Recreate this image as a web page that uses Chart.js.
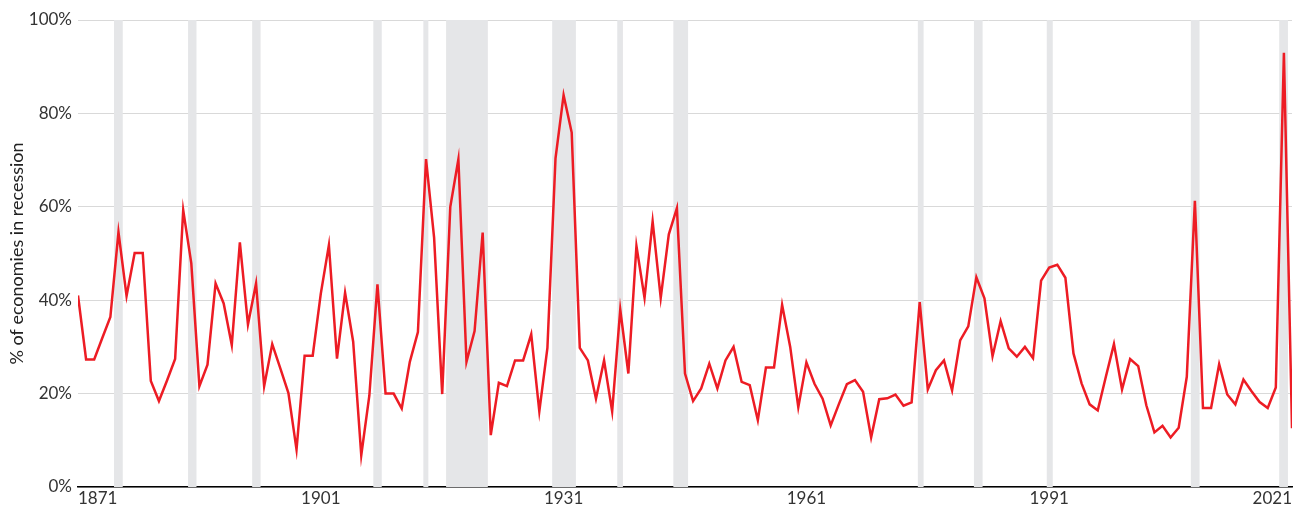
<!DOCTYPE html>
<html>
<head>
<meta charset="utf-8">
<script src="https://cdn.jsdelivr.net/npm/chart.js@4/dist/chart.umd.min.js"></script>
<style>
  html, body { margin: 0; padding: 0; background: #fff; }
</style>
</head>
<body>
<canvas id="chart" width="1298" height="513"></canvas>
<script>
// share of economies in recession, one value per year 1871-2021
const firstYear = 1871;
const recessionShare = [
  41.0, 27.3, 27.3, 31.9, 36.4, 54.6, 40.9, 50.1, 50.1, 22.7, // 1871-1880
  18.4, 22.8, 27.4, 59.3, 47.9, 21.6, 26.2, 43.6, 39.3, 30.4, // 1881-1890
  52.4, 34.8, 43.6, 21.6, 30.6, 25.4, 20.1, 8.0, 28.1, 28.1,  // 1891-1900
  41.4, 51.8, 27.5, 41.6, 31.1, 6.8, 19.6, 43.4, 20.0, 20.0,  // 1901-1910
  16.8, 26.8, 33.2, 70.2, 53.4, 19.9, 60.0, 70.2, 26.8, 33.4, // 1911-1920
  54.5, 11.1, 22.3, 21.6, 27.1, 27.1, 32.7, 16.2, 29.8, 70.4, // 1921-1930
  83.9, 75.9, 29.8, 27.1, 18.9, 27.1, 16.2, 38.0, 24.3, 51.6, // 1931-1940
  40.5, 56.9, 40.5, 54.1, 59.7, 24.3, 18.4, 21.1, 26.4, 21.1, // 1941-1950
  27.1, 30.0, 22.5, 21.8, 14.3, 25.6, 25.6, 39.0, 30.0, 17.1, // 1951-1960
  26.7, 22.1, 18.9, 13.2, 17.7, 22.0, 22.9, 20.4, 10.6, 18.8, // 1961-1970
  19.0, 19.8, 17.4, 18.1, 39.6, 20.9, 25.0, 27.1, 20.7, 31.4, // 1971-1980
  34.4, 44.9, 40.4, 28.0, 35.5, 29.7, 27.9, 30.0, 27.6, 44.2, // 1981-1990
  47.0, 47.6, 44.8, 28.6, 22.2, 17.7, 16.4, 23.6, 30.6, 20.9, // 1991-2000
  27.4, 25.9, 17.5, 11.7, 13.1, 10.6, 12.7, 23.6, 61.3, 16.9, // 2001-2010
  16.9, 26.3, 19.8, 17.7, 23.0, 20.5, 18.2, 16.9, 21.3, 93.0, // 2011-2020
  12.6                                                        // 2021
];
const years = recessionShare.map((_, i) => firstYear + i);

// global recession periods (shaded), in fractional years
const recessionStart = [1875.45, 1884.6, 1892.52, 1907.49, 1913.67, 1916.48, 1929.59, 1937.63, 1944.56, 1974.77, 1981.7, 1990.7, 2008.5, 2019.42];
const recessionEnd   = [1876.53, 1885.64, 1893.56, 1908.53, 1914.29, 1921.64, 1932.52, 1938.33, 1946.38, 1975.48, 1982.77, 1991.44, 2009.58, 2020.5];

const xTicks = [1871, 1901, 1931, 1961, 1991, 2021];
const yTicks = [0, 20, 40, 60, 80, 100];

const linePoints = years.map((yr, i) => ({ x: yr, y: recessionShare[i] }));

// stepped outline: 0 outside a recession, 100 inside
const bandPoints = [{ x: years[0], y: 0 }];
recessionStart.forEach((s, i) => {
  bandPoints.push({ x: s, y: 100 });
  bandPoints.push({ x: recessionEnd[i], y: 0 });
});
bandPoints.push({ x: years[years.length - 1], y: 0 });

const tickFont = { family: 'Lato', size: 17 };
const titleFont = { family: 'Lato', size: 18 };

new Chart(document.getElementById('chart'), {
  type: 'line',
  data: {
    datasets: [
      {
        data: linePoints,
        borderColor: '#ed1c24',
        borderWidth: 2.5,
        pointRadius: 0,
        tension: 0,
        fill: false,
        order: 0
      },
      {
        data: bandPoints,
        stepped: true,
        borderColor: 'rgba(0,0,0,0)',
        borderWidth: 0,
        backgroundColor: '#e5e6e8',
        pointRadius: 0,
        fill: 'origin',
        order: 1
      }
    ]
  },
  options: {
    responsive: false,
    animation: false,
    layout: { padding: { top: 20, right: 6, left: 0, bottom: 0 } },
    plugins: { legend: { display: false }, tooltip: { enabled: false } },
    scales: {
      x: {
        type: 'linear',
        min: 1871,
        max: 2021,
        z: 1,
        afterBuildTicks: axis => { axis.ticks = xTicks.map(v => ({ value: v })); },
        afterFit: axis => { axis.height = 26; },
        grid: { display: false, drawTicks: false },
        border: { display: true, color: '#000', width: 1.5 },
        ticks: {
          align: 'inner',
          maxRotation: 0,
          autoSkip: false,
          padding: 1,
          color: '#333',
          font: tickFont,
          callback: v => String(v)
        }
      },
      y: {
        min: 0,
        max: 100,
        afterBuildTicks: axis => { axis.ticks = yTicks.map(v => ({ value: v })); },
        afterFit: axis => { axis.width = 78; },
        grid: { color: '#d9d9d9', lineWidth: 1, drawTicks: false },
        border: { display: false },
        ticks: {
          padding: 6,
          color: '#333',
          font: tickFont,
          callback: v => v + '%'
        },
        title: {
          display: true,
          text: '% of economies in recession',
          color: '#222',
          font: titleFont,
          padding: { top: 6, bottom: 4 }
        }
      }
    }
  }
});
</script>
</body>
</html>
